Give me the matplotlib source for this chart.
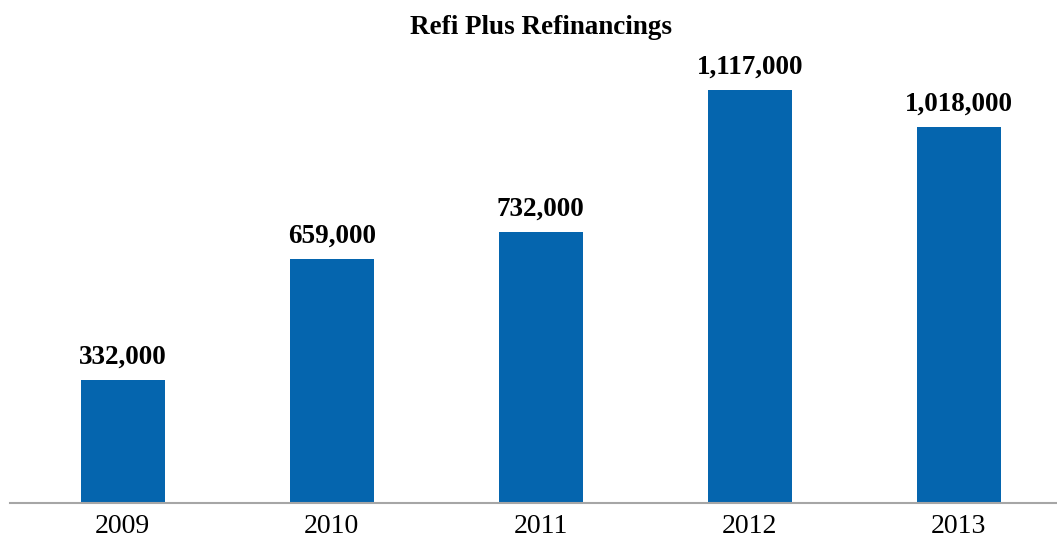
import matplotlib
matplotlib.use("Agg")
import matplotlib.pyplot as plt

years = ["2009", "2010", "2011", "2012", "2013"]
values = [332000, 659000, 732000, 1117000, 1018000]
bar_color = "#0565AE"

plt.rcParams['font.family'] = ['Liberation Serif', 'DejaVu Serif']

fig = plt.figure(figsize=(10.57, 5.40), dpi=100)
W, H = 1057, 540
left_px, right_px = 10, 1057
bottom_px = 503
ymax = 1200000
scale = 413 / 1117000
top_px = bottom_px - ymax * scale
ax = fig.add_axes([left_px / W, 1 - bottom_px / H, (right_px - left_px) / W, (bottom_px - top_px) / H])

x = list(range(len(years)))
bars = ax.bar(x, values, width=0.40, color=bar_color)
ax.set_xlim(-0.54, 4.47)
ax.set_ylim(0, ymax)

for xi, v in zip(x, values):
    ax.text(xi, v + 28000, f"{v:,}", ha="center", va="bottom", fontsize=19.5, fontweight="bold")

ax.set_xticks(x)
ax.set_xticklabels(years, fontsize=20)
ax.tick_params(axis="x", length=0, pad=8)
ax.set_yticks([])
for s in ["top", "right", "left"]:
    ax.spines[s].set_visible(False)
ax.spines["bottom"].set_color("#A6A6A6")
ax.spines["bottom"].set_linewidth(1.5)

fig.text(541 / W, 1 - 27 / H, "Refi Plus Refinancings", ha="center", va="center", fontsize=19.5, fontweight="bold")

fig.savefig("out.png", dpi=100)
